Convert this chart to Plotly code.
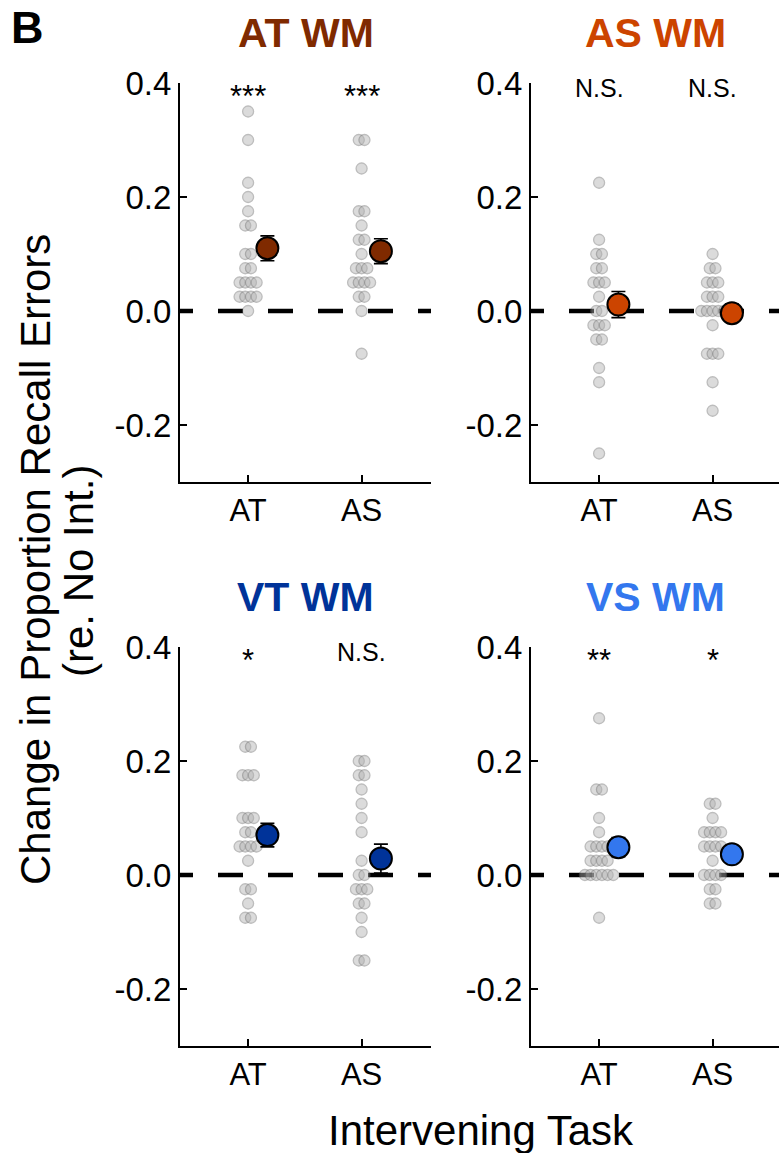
import numpy as np
import plotly.graph_objects as go

# Change in proportion recall errors relative to the no-interference baseline,
# one value per participant, for each working-memory condition x intervening task.
tasks = ["AT", "AS"]
panel_titles = ["AT WM", "AS WM", "VT WM", "VS WM"]
panel_colors = ["#7f2a00", "#cc4400", "#003399", "#3377ee"]

at_wm_at = [0.35, 0.30, 0.225, 0.20, 0.175, 0.15, 0.15, 0.10, 0.10, 0.075, 0.075,
            0.05, 0.05, 0.05, 0.05, 0.025, 0.025, 0.025, 0.025, 0.0]
at_wm_as = [0.30, 0.30, 0.25, 0.175, 0.175, 0.15, 0.125, 0.125, 0.10, 0.075, 0.075,
            0.075, 0.05, 0.05, 0.05, 0.05, 0.025, 0.025, 0.0, -0.075]
as_wm_at = [0.225, 0.125, 0.10, 0.10, 0.075, 0.075, 0.05, 0.05, 0.05, 0.025, 0.0,
            0.0, -0.025, -0.025, -0.025, -0.05, -0.05, -0.10, -0.125, -0.25]
as_wm_as = [0.10, 0.075, 0.075, 0.05, 0.05, 0.05, 0.025, 0.025, 0.025, 0.0, 0.0,
            0.0, 0.0, 0.0, -0.025, -0.075, -0.075, -0.075, -0.125, -0.175]
vt_wm_at = [0.225, 0.225, 0.175, 0.175, 0.175, 0.10, 0.10, 0.10, 0.075, 0.075,
            0.05, 0.05, 0.05, 0.05, 0.025, -0.025, -0.025, -0.05, -0.075, -0.075]
vt_wm_as = [0.20, 0.20, 0.175, 0.175, 0.15, 0.125, 0.10, 0.075, 0.025, 0.0, 0.0,
            -0.025, -0.025, -0.025, -0.05, -0.05, -0.075, -0.10, -0.15, -0.15]
vs_wm_at = [0.275, 0.15, 0.15, 0.10, 0.075, 0.05, 0.05, 0.05, 0.05, 0.025, 0.025,
            0.025, 0.025, 0.0, 0.0, 0.0, 0.0, 0.0, 0.0, -0.075]
vs_wm_as = [0.125, 0.125, 0.10, 0.075, 0.075, 0.075, 0.075, 0.05, 0.05, 0.05, 0.05,
            0.025, 0.0, 0.0, 0.0, 0.0, -0.025, -0.025, -0.05, -0.05]

panel_data = [
    [at_wm_at, at_wm_as],
    [as_wm_at, as_wm_as],
    [vt_wm_at, vt_wm_as],
    [vs_wm_at, vs_wm_as],
]
significance = [["***", "***"], ["N.S.", "N.S."], ["*", "N.S."], ["**", "*"]]

y_ticks = [-0.2, 0.0, 0.2, 0.4]
y_tick_text = ["-0.2", "0.0", "0.2", "0.4"]

# ---- geometry -------------------------------------------------------------
W, H = 779, 1153
FONT = "Liberation Sans, Arial, sans-serif"
x_doms_px = [(180, 431), (531, 779)]
y_doms_px = [(83, 482), (647, 1046)]
PX_PER_CAT = 113.5
X_LEFT = -0.60
MEAN_SHIFT = 0.17
ROW_STEP = 0.05


def spread_offsets(vals, step):
    """Spread participants sharing the same value side by side."""
    vals = np.asarray(vals)
    offs = np.zeros(len(vals))
    for v in np.unique(vals):
        idx = np.where(np.isclose(vals, v))[0]
        n = len(idx)
        offs[idx] = (np.arange(n) - (n - 1) / 2) * step
    return offs


fig = go.Figure()
layout = dict()
annotations = []
shapes = []

for p in range(4):
    row, col = divmod(p, 2)
    ax = "" if p == 0 else str(p + 1)
    xref, yref = "x" + ax, "y" + ax
    x0p, x1p = x_doms_px[col]
    y0p, y1p = y_doms_px[row]

    layout["xaxis" + ax] = dict(
        domain=[x0p / W, x1p / W],
        range=[X_LEFT, X_LEFT + (x1p - x0p) / PX_PER_CAT],
        anchor=yref, automargin=False,
        tickvals=[0, 1], ticktext=tasks,
        ticks="inside", ticklen=7, tickwidth=2, tickcolor="black",
        showline=True, linewidth=2, linecolor="black",
        showgrid=False, zeroline=False,
        tickfont=dict(family=FONT, size=31, color="black"),
        fixedrange=True,
    )
    layout["yaxis" + ax] = dict(
        domain=[1 - y1p / H, 1 - y0p / H],
        range=[-0.3, 0.4],
        anchor=xref, automargin=False,
        tickvals=y_ticks, ticktext=y_tick_text,
        ticks="inside", ticklen=7, tickwidth=2, tickcolor="black",
        showline=True, linewidth=2, linecolor="black",
        showgrid=False, zeroline=False,
        tickfont=dict(family=FONT, size=33, color="black"),
        fixedrange=True,
    )

    # dashed zero reference line
    shapes.append(dict(
        type="line", xref=xref + " domain", yref=yref,
        x0=0, x1=1, y0=0, y1=0, layer="below",
        line=dict(color="black", width=4.5,
                  dash="13px,25px,25px,25px,25px,25px,25px,25px,25px,25px,25px,25px"),
    ))

    for c, vals in enumerate(panel_data[p]):
        vals = np.asarray(vals, dtype=float)
        xs = c + spread_offsets(vals, ROW_STEP)
        fig.add_trace(go.Scatter(
            x=xs, y=vals, mode="markers", xaxis=xref, yaxis=yref,
            showlegend=False, hoverinfo="skip",
            marker=dict(size=11, color="#b0b0b0", opacity=0.45,
                        line=dict(color="#6e6e6e", width=1.3)),
        ))
        mean = vals.mean()
        sem = vals.std(ddof=1) / np.sqrt(len(vals))
        fig.add_trace(go.Scatter(
            x=[c + MEAN_SHIFT], y=[mean], mode="markers", xaxis=xref, yaxis=yref,
            showlegend=False,
            marker=dict(size=22, color=panel_colors[p],
                        line=dict(color="black", width=2)),
            error_y=dict(type="data", array=[sem], color="black",
                         thickness=1.6, width=7),
        ))
        sig = significance[p][c]
        is_ns = sig == "N.S."
        annotations.append(dict(
            x=c, y=0.392 if is_ns else 0.376, xref=xref, yref=yref, text=sig,
            showarrow=False, xanchor="center", yanchor="middle",
            font=dict(family=FONT, size=25 if is_ns else 31, color="black"),
        ))

    # panel title
    annotations.append(dict(
        x=(x0p + x1p) / 2 / W, y=1 - (y0p - 50) / H, xref="paper", yref="paper",
        text="<b>%s</b>" % panel_titles[p], showarrow=False,
        xanchor="center", yanchor="middle",
        font=dict(family=FONT, size=41, color=panel_colors[p]),
    ))

annotations += [
    dict(x=27 / W, y=1.0, xref="paper", yref="paper", text="<b>B</b>",
         showarrow=False, xanchor="center", yanchor="top",
         font=dict(family=FONT, size=45, color="black")),
    dict(x=35 / W, y=1 - 560 / H, xref="paper", yref="paper",
         text="Change in Proportion Recall Errors",
         textangle=-90, showarrow=False, xanchor="center", yanchor="middle",
         font=dict(family=FONT, size=42, color="black")),
    dict(x=79 / W, y=1 - 571 / H, xref="paper", yref="paper",
         text="(re. No Int.)",
         textangle=-90, showarrow=False, xanchor="center", yanchor="middle",
         font=dict(family=FONT, size=42, color="black")),
    dict(x=481 / W, y=1 - 1130 / H, xref="paper", yref="paper",
         text="Intervening Task", showarrow=False,
         xanchor="center", yanchor="middle",
         font=dict(family=FONT, size=42, color="black")),
]

fig.update_layout(
    width=W, height=H,
    margin=dict(l=0, r=0, t=0, b=0, autoexpand=False),
    paper_bgcolor="white", plot_bgcolor="white",
    annotations=annotations, shapes=shapes,
    **layout,
)

fig.write_html("out.html", config={"displayModeBar": False})
